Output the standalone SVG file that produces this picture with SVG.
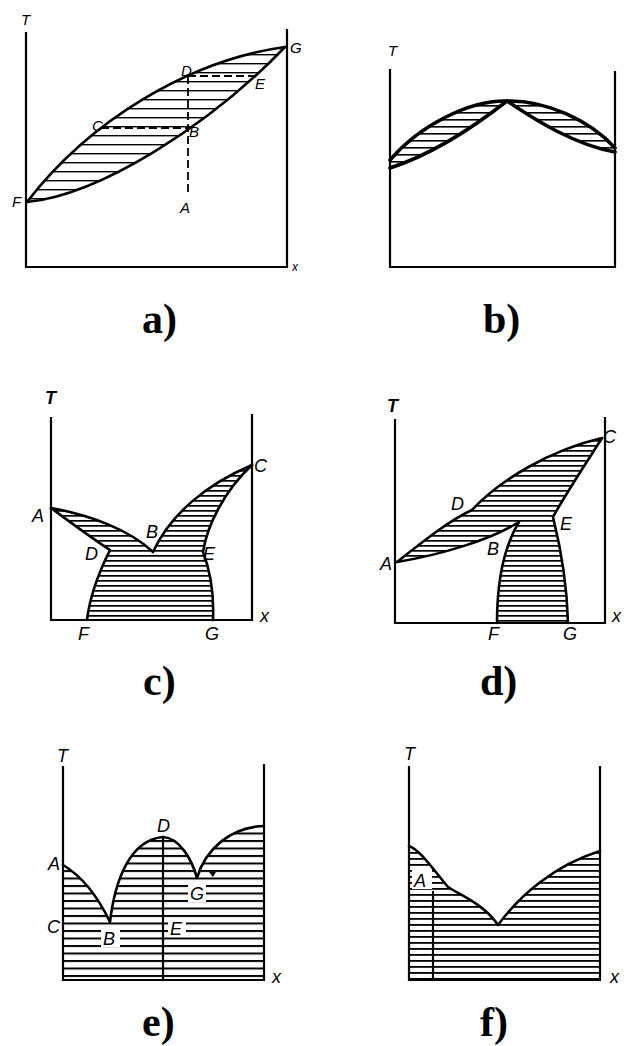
<svg xmlns="http://www.w3.org/2000/svg" width="624" height="1046" viewBox="0 0 624 1046">
<style>
.ax{fill:none;stroke:#000;stroke-width:2.2;stroke-linecap:square}
.cv{fill:none;stroke:#000;stroke-width:2.6;stroke-linejoin:round;stroke-linecap:round}
.cvb{fill:none;stroke:#000;stroke-width:3.6;stroke-linejoin:round;stroke-linecap:round}
.ds{fill:none;stroke:#000;stroke-width:1.8;stroke-dasharray:8 4}
.lb{font-family:"Liberation Sans",Arial,sans-serif;font-style:italic;font-size:18px;fill:#000}
.lbs{font-family:"Liberation Sans",Arial,sans-serif;font-style:italic;font-size:15px;fill:#000}
.cap{font-family:"Liberation Serif","Times New Roman",serif;font-weight:bold;font-size:42px;fill:#000}
</style>
<defs>
<pattern id="h9" patternUnits="userSpaceOnUse" width="20" height="9"><rect x="0" y="0" width="20" height="1.4" fill="#000"/></pattern>
<pattern id="h7" patternUnits="userSpaceOnUse" width="20" height="7"><rect x="0" y="0" width="20" height="1.6" fill="#000"/></pattern>
<pattern id="h5" patternUnits="userSpaceOnUse" width="20" height="5"><rect x="0" y="0" width="20" height="1.7" fill="#000"/></pattern>
<pattern id="h6" patternUnits="userSpaceOnUse" width="20" height="6"><rect x="0" y="0" width="20" height="1.8" fill="#000"/></pattern>
<pattern id="h75" patternUnits="userSpaceOnUse" width="20" height="7.5"><rect x="0" y="0" width="20" height="2" fill="#000"/></pattern>
</defs>

<g id="panel-a">
<path d="M27,202 C 90,120 190,60 285,47 C 210,125 100,195 27,202 Z" fill="url(#h9)"/>
<path class="ax" d="M26,33 L26,267 L287,267 M287,30 L287,267"/>
<path class="cv" d="M27,202 C 90,120 190,60 285,47"/>
<path class="cv" d="M27,202 C 100,195 210,125 285,47"/>
<path class="ds" d="M188,76 L188,193 M101,128 L188,128 M188,76 L254,76"/>
<text class="lbs" x="21" y="25">T</text>
<text class="lbs" x="12" y="207">F</text>
<text class="lbs" x="92" y="131">C</text>
<text class="lbs" x="181" y="76">D</text>
<text class="lbs" x="189" y="137">B</text>
<text class="lbs" x="255" y="89">E</text>
<text class="lbs" x="180" y="213">A</text>
<text class="lbs" x="290" y="53">G</text>
<text class="lbs" x="292" y="271" style="font-size:12px">x</text>
</g>

<g id="panel-b">
<path d="M390,160 C 420,125 470,100 507,101 C 470,130 430,155 390,168 Z" fill="url(#h7)"/>
<path d="M507,101 C 545,100 590,120 615,148 L615,152 C 575,145 535,120 507,101 Z" fill="url(#h7)"/>
<path class="ax" d="M390,70 L390,267 L615,267 L615,72"/>
<path class="cvb" d="M390,160 C 420,125 470,100 507,101 C 545,100 590,120 615,148"/>
<path class="cvb" d="M390,168 C 430,155 470,130 507,101 C 535,120 575,145 615,152"/>
<text class="lbs" x="388" y="56">T</text>
</g>

<g id="panel-c">
<path d="M51,508 C 90,515 130,530 153,552 C 170,515 205,485 252,465 C 225,490 207,525 203,552 C 210,570 214,595 213,620 L87,620 C 90,595 100,570 110,550 C 90,537 70,522 51,508 Z" fill="url(#h5)"/>
<path class="ax" d="M51,418 L51,620 L252,620 L252,415"/>
<path class="cv" d="M51,508 C 90,515 130,530 153,552 C 170,515 205,485 252,465"/>
<path class="cv" d="M51,508 C 70,522 90,537 110,550 C 100,570 90,595 87,620"/>
<path class="cv" d="M252,465 C 225,490 207,525 203,552 C 210,570 214,595 213,620"/>
<text class="lb" x="45" y="404" style="font-weight:bold">T</text>
<text class="lb" x="32" y="522">A</text>
<text class="lb" x="146" y="538">B</text>
<text class="lb" x="254" y="472">C</text>
<text class="lb" x="85" y="560">D</text>
<text class="lb" x="203" y="560">E</text>
<text class="lb" x="78" y="640">F</text>
<text class="lb" x="205" y="640">G</text>
<text class="lb" x="260" y="622">x</text>
</g>

<g id="panel-d">
<path d="M397,562 C 425,540 450,520 472,510 C 500,480 550,450 602,438 C 585,465 565,495 553,517 C 560,545 567,585 568,623 L497,623 C 497,580 505,545 519,522 C 490,540 440,555 397,562 Z" fill="url(#h5)"/>
<path class="ax" d="M395,420 L395,623 L605,623 L605,418"/>
<path class="cv" d="M397,562 C 425,540 450,520 472,510 C 500,480 550,450 602,438"/>
<path class="cv" d="M397,562 C 440,555 490,540 519,522 C 505,545 497,580 497,623"/>
<path class="cv" d="M602,438 C 585,465 565,495 553,517 C 560,545 567,585 568,623"/>
<text class="lb" x="387" y="412" style="font-weight:bold">T</text>
<text class="lb" x="603" y="443">C</text>
<text class="lb" x="451" y="510">D</text>
<text class="lb" x="560" y="530">E</text>
<text class="lb" x="487" y="555">B</text>
<text class="lb" x="380" y="570">A</text>
<text class="lb" x="488" y="640">F</text>
<text class="lb" x="563" y="640">G</text>
<text class="lb" x="612" y="622">x</text>
</g>

<g id="panel-e">
<path d="M63,865 C 80,875 97,895 110,922 C 115,880 130,840 163,837 C 180,838 192,860 197,878 C 205,850 230,827 264,826 L264,980 L63,980 Z" fill="url(#h75)"/>
<rect x="188" y="884" width="18" height="18" fill="#fff"/>
<rect x="101" y="929" width="19" height="18" fill="#fff"/>
<rect x="168" y="918" width="18" height="18" fill="#fff"/>
<path class="ax" d="M63,767 L63,980 L264,980 L264,765"/>
<path class="cv" d="M63,865 C 80,875 97,895 110,922 C 115,880 130,840 163,837 C 180,838 192,860 197,878 C 205,850 230,827 264,826"/>
<path class="ax" d="M163,837 L163,980"/>
<path d="M209,872 L216,872 L213,877 Z" fill="#000"/>
<text class="lb" x="57" y="762">T</text>
<text class="lb" x="48" y="870">A</text>
<text class="lb" x="157" y="832">D</text>
<text class="lb" x="190" y="900">G</text>
<text class="lb" x="47" y="933">C</text>
<text class="lb" x="103" y="945">B</text>
<text class="lb" x="170" y="935">E</text>
<text class="lb" x="272" y="983">x</text>
</g>

<g id="panel-f">
<path d="M409,846 C 420,850 432,868 448,887 C 460,895 485,905 498,925 C 520,895 555,865 600,851 L600,980 L409,980 Z" fill="url(#h6)"/>
<rect x="412" y="870" width="20" height="19" fill="#fff"/>
<path class="ax" d="M409,767 L409,980 L600,980 L600,767"/>
<path class="cv" d="M409,846 C 420,850 432,868 448,887 C 460,895 485,905 498,925 C 520,895 555,865 600,851"/>
<path class="ax" d="M433,892 L433,980"/>
<text class="lb" x="404" y="760">T</text>
<text class="lb" x="414" y="887">A</text>
<text class="lb" x="610" y="983">x</text>
</g>

<g id="captions">
<text class="cap" x="142" y="333">a)</text>
<text class="cap" x="483" y="333">b)</text>
<text class="cap" x="143" y="695">c)</text>
<text class="cap" x="480" y="695">d)</text>
<text class="cap" x="142" y="1036">e)</text>
<text class="cap" x="480" y="1036">f)</text>
</g>
</svg>
